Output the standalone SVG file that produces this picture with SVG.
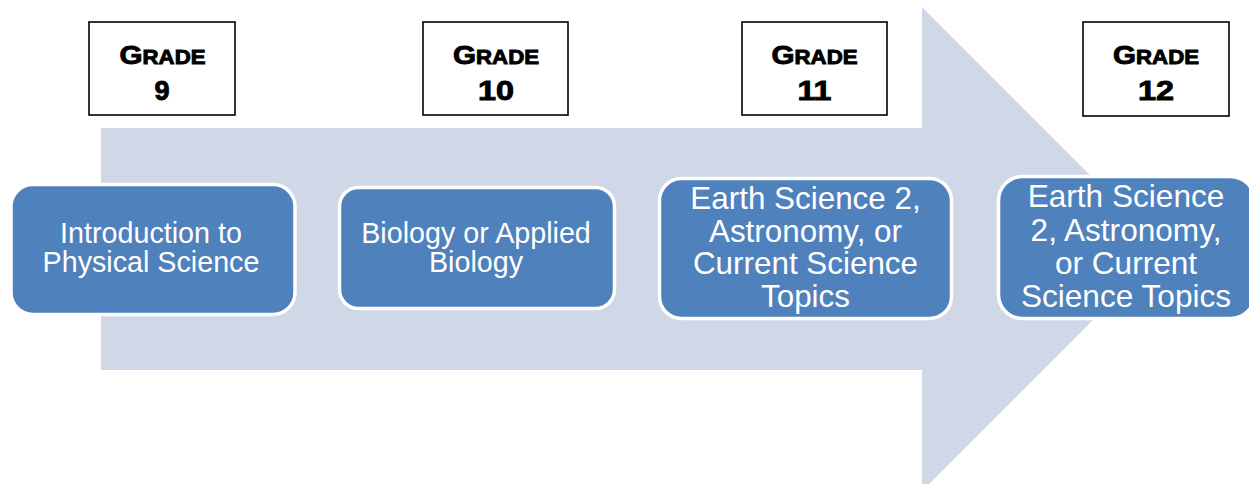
<svg xmlns="http://www.w3.org/2000/svg" width="1249" height="484" viewBox="0 0 1249 484">
<style>
.grade{fill:#fff;stroke:#000;stroke-width:1.6}
.gt{font-family:"Liberation Sans",Arial,sans-serif;font-weight:bold;fill:#000;stroke:#000;stroke-width:0.9;text-anchor:middle}
.node{fill:#4F81BD;stroke:#fff;stroke-width:3.5}
.nt{font-family:"Liberation Sans",Arial,sans-serif;fill:#fff;text-anchor:middle}
</style>
<rect width="1249" height="484" fill="#fff"/>
<g id="connectors">
<polygon points="101,128 922,128 922,7 1164,249 922,491 922,370 101,370" fill="#D0D8E8"/>
</g>
<g id="grade9">
<rect class="grade" x="89" y="22" width="146" height="93"/>
<text class="gt" x="162.5" y="64" textLength="86" lengthAdjust="spacingAndGlyphs"><tspan font-size="26">G</tspan><tspan font-size="19.5">RADE</tspan></text>
<text class="gt" x="162" y="100" font-size="27">9</text>
</g>
<g id="grade10">
<rect class="grade" x="423" y="22" width="145" height="93"/>
<text class="gt" x="496" y="64" textLength="86" lengthAdjust="spacingAndGlyphs"><tspan font-size="26">G</tspan><tspan font-size="19.5">RADE</tspan></text>
<text class="gt" x="496" y="100" font-size="27" textLength="36" lengthAdjust="spacingAndGlyphs">10</text>
</g>
<g id="grade11">
<rect class="grade" x="742" y="22" width="145" height="93"/>
<text class="gt" x="814.5" y="64" textLength="86" lengthAdjust="spacingAndGlyphs"><tspan font-size="26">G</tspan><tspan font-size="19.5">RADE</tspan></text>
<text class="gt" x="814.5" y="100" font-size="27" textLength="34" lengthAdjust="spacingAndGlyphs">11</text>
</g>
<g id="grade12">
<rect class="grade" x="1083" y="22" width="146" height="94"/>
<text class="gt" x="1156" y="64" textLength="86" lengthAdjust="spacingAndGlyphs"><tspan font-size="26">G</tspan><tspan font-size="19.5">RADE</tspan></text>
<text class="gt" x="1156" y="100" font-size="27" textLength="36" lengthAdjust="spacingAndGlyphs">12</text>
</g>
<g id="node1">
<rect class="node" x="11" y="184.5" width="284" height="130" rx="22"/>
<text class="nt" font-size="28.7" x="151" y="243">Introduction to</text>
<text class="nt" font-size="28.7" x="151" y="272">Physical Science</text>
</g>
<g id="node2">
<rect class="node" x="339.5" y="187.5" width="275" height="121" rx="19"/>
<text class="nt" font-size="28.7" x="476" y="243">Biology or Applied</text>
<text class="nt" font-size="28.7" x="476" y="272">Biology</text>
</g>
<g id="node3">
<rect class="node" x="659.5" y="178.5" width="292" height="140" rx="22"/>
<text class="nt" font-size="31.4" x="805.5" y="208.5">Earth Science 2,</text>
<text class="nt" font-size="31.4" x="805.5" y="241.5">Astronomy, or</text>
<text class="nt" font-size="31.4" x="805.5" y="274">Current Science</text>
<text class="nt" font-size="31.4" x="805.5" y="307">Topics</text>
</g>
<g id="node4">
<rect class="node" x="998.5" y="176.5" width="256" height="142" rx="24"/>
<text class="nt" font-size="31.6" x="1126" y="207">Earth Science</text>
<text class="nt" font-size="31.6" x="1126" y="240.5">2, Astronomy,</text>
<text class="nt" font-size="31.6" x="1126" y="273.5">or Current</text>
<text class="nt" font-size="31.6" x="1126" y="307">Science Topics</text>
</g>
</svg>
